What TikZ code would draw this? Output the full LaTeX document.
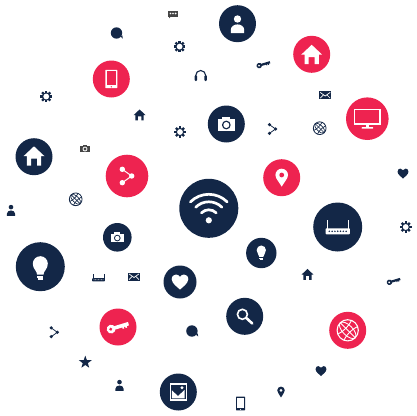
\documentclass[tikz,border=0pt]{standalone}
\definecolor{navy}{HTML}{132747}
\definecolor{hot}{HTML}{EE2350}
\definecolor{gry}{HTML}{454545}
\tikzset{lw/.style={line width={(#1)*(0.35+0.65*\icscale)*1pt}}}
\newcommand\disc[4]{\fill[#4] (#1,#2) circle [radius=#3];}
\newcommand\icon[6]{\begin{scope}[shift={(#2,#3)},scale=#4]\def\icscale{#4}\colorlet{icfg}{#5}\colorlet{icbg}{#6}\csname ic#1\endcsname\end{scope}}
\newcommand\ichome{\fill[icfg] (-10.5,0.2)--(0,-9.7)--(10.5,0.2)--(7.2,0.2)--(7.2,9.5)--(3,9.5)--(3,2.5)--(-3,2.5)--(-3,9.5)--(-7.2,9.5)--(-7.2,0.2)--cycle;}
\newcommand\icuser{\fill[icfg] (0,-4.7) circle [radius=3.7];
 \fill[icfg] (-6.7,9.3)--(-6.7,6.3) .. controls (-6.7,2.8) and (-3.5,0.7) .. (0,0.7) .. controls (3.5,0.7) and (6.7,2.8) .. (6.7,6.3)--(6.7,9.3)--cycle;}
\newcommand\icphone{\fill[icfg,rounded corners=0.6pt] (-6,-9.2) rectangle (6,9.2);
 \fill[icbg] (-4.8,-7.6) rectangle (4.8,6.4);
 \fill[icbg] (0,7.8) circle [radius=.7];}
\newcommand\icshare{\draw[icfg,lw=1] (-4.7,-6.7)--(4.7,0)--(-4.7,6.7);
 \foreach \p in {(-4.7,-6.7),(4.7,0),(-4.7,6.7)} \fill[icfg] \p circle [radius=2.7];}
\newcommand\icwifi{\draw[icfg,lw=2.7,line cap=round] (0,12) ++(225:26) arc (225:315:26);
 \draw[icfg,lw=2.7,line cap=round] (0,12) ++(225:18.5) arc (225:315:18.5);
 \draw[icfg,lw=2.7,line cap=round] (0,12) ++(225:10.5) arc (225:315:10.5);
 \fill[icfg] (0,12) circle [radius=3.1];}
\newcommand\icrouter{\draw[icfg,lw=1] (-10.5,2)--(-10.5,-7);
 \draw[icfg,lw=1] (10.5,2)--(10.5,-7);
 \fill[icfg,rounded corners=0.8pt] (-12.2,1.3) rectangle (12.2,7.3);
 \foreach \i in {-8.4,-5.6,-2.8,0,2.8,5.6,8.4} \fill[icbg] (\i,4.3) circle [radius=.85];}
\newcommand\icbulb{\fill[icfg] (-3.2,8) .. controls (-3.2,4) and (-7.5,2.5) .. (-7.5,-3) arc (180:360:7.5) .. controls (7.5,2.5) and (3.2,4) .. (3.2,8)--cycle;
 \fill[icfg] (-3,9.3) rectangle (3,10.8);
 \fill[icfg] (-2.2,11.6) rectangle (2.2,13);}
\newcommand\icglobe{\draw[icfg,lw=1.1] (0,0) circle [radius=10.6];
 \begin{scope}[rotate=45]
 \draw[icfg,lw=.9] (0,0) ellipse [x radius=5,y radius=10.6];
 \draw[icfg,lw=.9] (0,-10.6)--(0,10.6);
 \draw[icfg,lw=.9] (-9.7,-4.3) .. controls (-4,-2.2) and (4,-2.2) .. (9.7,-4.3);
 \draw[icfg,lw=.9] (-9.7,4.3) .. controls (-4,2.2) and (4,2.2) .. (9.7,4.3);
 \end{scope}}
\newcommand\icmonitor{\draw[icfg,lw=1.4] (-12.8,-9.2) rectangle (12.8,5.3);
 \fill[icfg] (-1.7,5.3) rectangle (1.9,8.8);
 \fill[icfg,rounded corners=0.4pt] (-5.6,8.5) rectangle (5.8,10);}
\newcommand\icpicture{\draw[icfg,lw=1.1] (-8,-8) rectangle (8,8);
 \fill[icfg] (3.7,-4.2) circle [radius=1.6];
 \fill[icfg] (-6.4,-1.6)--(-0.3,4)--(6.4,-2.2)--(6.4,6.4)--(-6.4,6.4)--cycle;}
\newcommand\icgear{\foreach \a in {0,45,...,315} \fill[icfg,rotate=\a] (-1.2,-5.8) rectangle (1.2,-3);
 \fill[icfg] (0,0) circle [radius=4.2];
 \fill[icbg] (0,0) circle [radius=2.9];}
\newcommand\ichead{\draw[icfg,lw=1.1] (-5,3) -- (-5,0) arc (180:360:5) -- (5,3);
 \fill[icfg,rounded corners=1pt] (-6.2,-0.2) rectangle (-3.6,5.5);
 \fill[icfg,rounded corners=1pt] (3.6,-0.2) rectangle (6.2,5.5);}
\newcommand\ickey{\begin{scope}[rotate=17]
 \fill[icfg] (-7.2,0) circle [radius=4.4];
 \fill[icfg] (-5,-1.9) rectangle (11,1.7);
 \fill[icfg] (4,1) rectangle (5.6,3.2);
 \fill[icfg] (7,1) rectangle (8.6,3.2);
 \fill[icbg] (-7.6,0) circle [radius=1.6];
 \end{scope}}
\newcommand\iccamera{\fill[icfg] (-8.7,-4.7) rectangle (8.7,6.7);
 \fill[icfg] (-4,-6.7) rectangle (4,-4.5);
 \fill[icbg] (0,1) circle [radius=4.4];
 \fill[icfg] (0,1) circle [radius=3];}
\newcommand\icheart{\fill[icfg] (0,7.6) .. controls (-2,5.5) and (-8.3,1.5) .. (-8.3,-2.8) .. controls (-8.3,-6) and (-5.8,-7.5) .. (-4,-7.5) .. controls (-2.3,-7.5) and (-0.8,-6.5) .. (0,-5) .. controls (0.8,-6.5) and (2.3,-7.5) .. (4,-7.5) .. controls (5.8,-7.5) and (8.3,-6) .. (8.3,-2.8) .. controls (8.3,1.5) and (2,5.5) .. (0,7.6)--cycle;}
\newcommand\icsearch{\draw[icfg,lw=1.6] (-2.3,-2) circle [radius=5];
 \draw[icfg,lw=2.6,line cap=round] (1.5,1.6)--(7.6,7.2);}
\newcommand\icpin{\fill[icfg] (0,9) .. controls (-2,5) and (-6.3,1) .. (-6.3,-2.7) arc (180:360:6.3) .. controls (6.3,1) and (2,5) .. (0,9)--cycle;
 \fill[icbg] (0,-2.7) circle [radius=2.4];}
\newcommand\icmail{\fill[icfg] (-5.9,-3.9) rectangle (5.9,3.9);
 \draw[icbg,lw=.7] (-5,-2.8)--(0,0.8)--(5,-2.8);
 \draw[icbg,lw=.7] (-5,3)--(-1.6,-0.4);
 \draw[icbg,lw=.7] (5,3)--(1.6,-0.4);}
\newcommand\icchat{\fill[icfg] (-5,-3.3) rectangle (5,2.5);
 \fill[icfg] (-4,2.4)--(-2,2.4)--(-4,4.4)--cycle;
 \foreach \i in {-2.6,0,2.6} \fill[icbg] (\i,-0.5) circle [radius=.9];}
\newcommand\icbubble{\fill[icfg] (-0.3,0) circle [radius=5.7];
 \fill[icfg] (3.8,3.6)--(6,5.6)--(5.5,2.4)--cycle;}
\newcommand\icstar{\fill[icfg] (270:6.7)--(306:2.7)--(342:6.7)--(18:2.7)--(54:6.7)--(90:2.7)--(126:6.7)--(162:2.7)--(198:6.7)--(234:2.7)--cycle;}
\begin{document}
\begin{tikzpicture}[x=1pt,y=-1pt]
\useasboundingbox (0,0) rectangle (417,415);
% large discs
\disc{111.3}{79}{18.5}{hot}\icon{phone}{111.3}{79}{1}{white}{hot}
\disc{34}{156.7}{18.5}{navy}\icon{home}{34}{156}{1}{white}{navy}
\disc{127}{176}{21.3}{hot}\icon{share}{127}{176}{1}{white}{hot}
\disc{208.8}{208.3}{29.5}{navy}\icon{wifi}{208.8}{208.3}{1}{white}{navy}
\disc{237.5}{23.7}{18.5}{navy}\icon{user}{237.5}{23.7}{1}{white}{navy}
\disc{311.7}{54.3}{18.5}{hot}\icon{home}{311.7}{54.5}{1}{white}{hot}
\disc{226.3}{124}{18.5}{navy}\icon{camera}{226.3}{124}{1}{white}{navy}
\disc{367.3}{118.7}{21.3}{hot}\icon{monitor}{367.3}{118.7}{1}{white}{hot}
\disc{281.7}{177.7}{18.5}{hot}\icon{pin}{281.7}{177.7}{1}{white}{hot}
\disc{337.7}{227}{24.5}{navy}\icon{router}{337.7}{227}{1}{white}{navy}
\disc{261.3}{253}{15.2}{navy}\icon{bulb}{261.3}{252}{.62}{white}{navy}
\disc{244.7}{316.3}{18.5}{navy}\icon{search}{244.7}{316.3}{1}{white}{navy}
\disc{347.7}{330.3}{18.5}{hot}\icon{globe}{347.7}{330.3}{1}{white}{hot}
\disc{40.3}{266.7}{24.5}{navy}\icon{bulb}{40.3}{266.7}{1}{white}{navy}
\disc{117.3}{237.3}{14.3}{navy}\icon{camera}{117.3}{237.3}{.75}{white}{navy}
\disc{180}{282}{16.5}{navy}\icon{heart}{180}{282}{1}{white}{navy}
\disc{118}{327}{18.5}{hot}\icon{key}{118}{327}{1}{white}{hot}
\disc{178.3}{392}{18.5}{navy}\icon{picture}{178.3}{392}{1}{white}{navy}
% small icons
\icon{chat}{173}{14}{1}{gry}{white}
\icon{bubble}{116.8}{33}{1}{navy}{white}
\icon{gear}{179.6}{46.6}{1}{navy}{white}
\icon{head}{200.7}{75.5}{1}{navy}{white}
\icon{gear}{46.2}{96.5}{1}{navy}{white}
\icon{home}{139.6}{115}{.57}{navy}{white}
\icon{gear}{180}{132}{1}{navy}{white}
\icon{camera}{85}{148.5}{.55}{gry}{white}
\icon{globe}{75.7}{199.3}{.6}{navy}{white}
\icon{user}{11}{210}{.62}{navy}{white}
\icon{key}{263.5}{64.3}{.62}{navy}{white}
\icon{mail}{325.2}{95.2}{1}{navy}{white}
\icon{share}{272.5}{129}{.65}{navy}{white}
\icon{globe}{319.7}{128.2}{.6}{navy}{white}
\icon{heart}{403}{173.5}{.66}{navy}{white}
\icon{gear}{405.7}{227}{1}{navy}{white}
\icon{home}{307.5}{274.5}{.57}{navy}{white}
\icon{key}{393.7}{281}{.62}{navy}{white}
\icon{router}{98.5}{277.5}{.53}{navy}{white}
\icon{mail}{134}{276.7}{1}{navy}{white}
\icon{share}{54.3}{332.3}{.65}{navy}{white}
\icon{bubble}{192.2}{331}{1}{navy}{white}
\icon{star}{85.3}{362.3}{1}{navy}{white}
\icon{user}{119.5}{385}{.62}{navy}{white}
\icon{phone}{240.5}{403.5}{.75}{navy}{white}
\icon{pin}{281}{392}{.6}{navy}{white}
\icon{heart}{321}{371}{.66}{navy}{white}
\end{tikzpicture}
\end{document}
